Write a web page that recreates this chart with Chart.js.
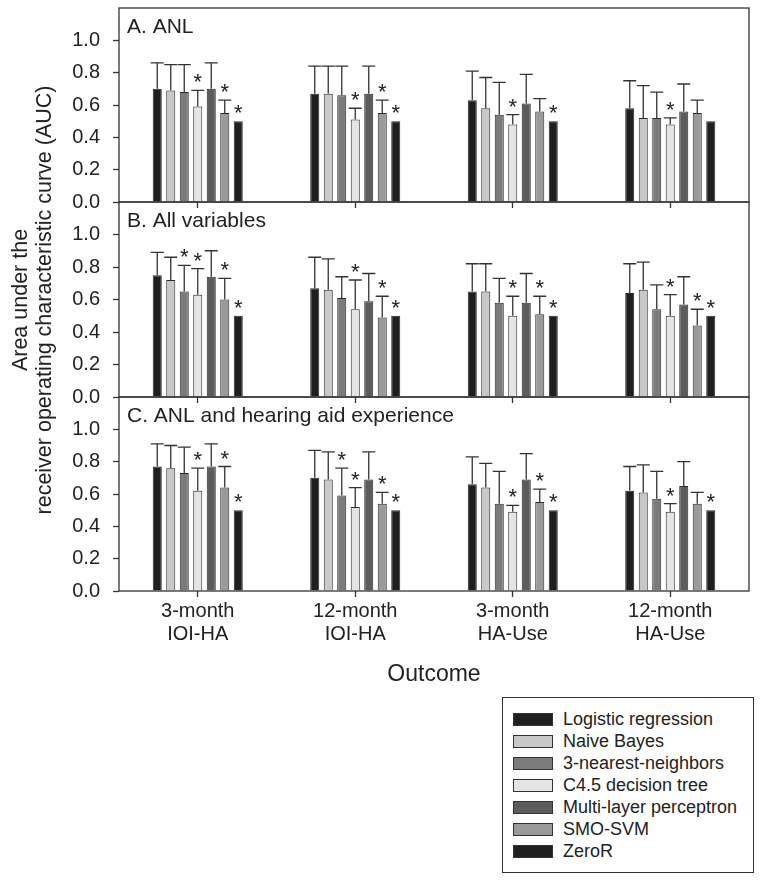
<!DOCTYPE html>
<html>
<head>
<meta charset="utf-8">
<script src="https://cdn.jsdelivr.net/npm/chart.js@4.4.0/dist/chart.umd.min.js"></script>
<style>
  body { margin: 0; background: #fff; font-family: "Liberation Sans", Arial, sans-serif; color: #222; }
  #page { position: relative; width: 762px; height: 881px; overflow: hidden; }
  canvas { position: absolute; left: 0; }
  #ytitle {
    position: absolute; left: -218px; top: 276px; width: 500px; height: 48px;
    font-size: 21.5px; line-height: 24px; text-align: center; color: #222;
    transform: rotate(-90deg); transform-origin: 50% 50%; white-space: nowrap;
  }
  #legend {
    position: absolute; left: 502px; top: 697px; width: 250px; height: 174px;
    border: 1px solid #333; box-sizing: content-box; padding: 0;
  }
  .row { position: absolute; left: 10px; height: 22px; display: flex; align-items: center; font-size: 18px; color: #222; white-space: nowrap; }
  .sw { width: 38px; height: 11px; border: 1px solid #333; margin-right: 10px; }
</style>
</head>
<body>
<div id="page">
  <canvas id="panelA" width="762" height="210" style="top:0px;width:762px;height:210px"></canvas>
  <canvas id="panelB" width="762" height="211" style="top:194px;width:762px;height:211px"></canvas>
  <canvas id="panelC" width="762" height="299" style="top:389px;width:762px;height:299px"></canvas>
  <div id="ytitle">Area under the<br>receiver operating characteristic curve (AUC)</div>
  <div id="legend"></div>
</div>
<script>
// Outcomes on the x axis, classifiers as bars
const outcomes = [['3-month', 'IOI-HA'], ['12-month', 'IOI-HA'], ['3-month', 'HA-Use'], ['12-month', 'HA-Use']];
const methods = ['Logistic regression', 'Naive Bayes', '3-nearest-neighbors', 'C4.5 decision tree',
  'Multi-layer perceptron', 'SMO-SVM', 'ZeroR'];
const methodColors = ['#1f1f1f', '#c8c8c8', '#7b7b7b', '#e4e4e4', '#5c5c5c', '#9a9a9a', '#1f1f1f'];
const panelTitles = ['A. ANL', 'B. All variables', 'C. ANL and hearing aid experience'];
const yTicks = [0, 0.2, 0.4, 0.6, 0.8, 1.0];

// mean AUC, one row per method (4 outcomes each)
const aucANL = [
  [0.70, 0.67, 0.63, 0.58], [0.69, 0.67, 0.58, 0.52], [0.68, 0.66, 0.54, 0.52], [0.59, 0.51, 0.48, 0.48],
  [0.70, 0.67, 0.61, 0.56], [0.55, 0.55, 0.56, 0.55], [0.50, 0.50, 0.50, 0.50]
];
const upperANL = [
  [0.86, 0.84, 0.81, 0.75], [0.85, 0.84, 0.77, 0.72], [0.85, 0.84, 0.74, 0.68], [0.69, 0.58, 0.54, 0.52],
  [0.86, 0.84, 0.79, 0.73], [0.63, 0.63, 0.64, 0.63], [null, null, null, null]
];
const starsANL = [
  [0, 0, 0, 0], [0, 0, 0, 0], [0, 0, 0, 0], [1, 1, 1, 1], [0, 0, 0, 0], [1, 1, 0, 0], [1, 1, 1, 0]
];

const aucAll = [
  [0.75, 0.67, 0.65, 0.64], [0.72, 0.66, 0.65, 0.66], [0.65, 0.61, 0.58, 0.54], [0.63, 0.54, 0.50, 0.50],
  [0.74, 0.59, 0.58, 0.57], [0.60, 0.49, 0.51, 0.44], [0.50, 0.50, 0.50, 0.50]
];
const upperAll = [
  [0.89, 0.86, 0.82, 0.82], [0.86, 0.85, 0.82, 0.83], [0.81, 0.74, 0.73, 0.69], [0.79, 0.72, 0.62, 0.63],
  [0.90, 0.76, 0.76, 0.74], [0.73, 0.62, 0.62, 0.54], [null, null, null, null]
];
const starsAll = [
  [0, 0, 0, 0], [0, 0, 0, 0], [1, 0, 0, 0], [1, 1, 1, 1], [0, 0, 0, 0], [1, 1, 1, 1], [1, 1, 1, 1]
];

const aucExp = [
  [0.77, 0.70, 0.66, 0.62], [0.76, 0.69, 0.64, 0.61], [0.73, 0.59, 0.54, 0.57], [0.62, 0.52, 0.49, 0.49],
  [0.77, 0.69, 0.69, 0.65], [0.64, 0.54, 0.55, 0.54], [0.50, 0.50, 0.50, 0.50]
];
const upperExp = [
  [0.91, 0.87, 0.83, 0.77], [0.90, 0.86, 0.79, 0.78], [0.89, 0.76, 0.74, 0.74], [0.76, 0.64, 0.53, 0.54],
  [0.91, 0.86, 0.85, 0.80], [0.77, 0.61, 0.63, 0.61], [null, null, null, null]
];
const starsExp = [
  [0, 0, 0, 0], [0, 0, 0, 0], [0, 1, 0, 0], [1, 1, 1, 1], [0, 0, 0, 0], [1, 1, 1, 0], [1, 1, 1, 1]
];

const FONT = '"Liberation Sans", Arial, sans-serif';
const INK = '#333';

// error bars, asterisks, frame and panel title
const panelDecor = {
  id: 'panelDecor',
  afterDatasetsDraw(chart, args, opts) {
    const { ctx, chartArea: a } = chart;
    const y = chart.scales.y;
    ctx.save();
    chart.data.datasets.forEach((ds, i) => {
      const meta = chart.getDatasetMeta(i);
      meta.data.forEach((bar, j) => {
        let top = bar.y;
        const up = ds.upper[j];
        if (up != null) {
          const yy = y.getPixelForValue(up);
          ctx.strokeStyle = INK;
          ctx.lineWidth = 1.3;
          ctx.beginPath();
          ctx.moveTo(bar.x, bar.y);
          ctx.lineTo(bar.x, yy);
          ctx.moveTo(bar.x - 6.5, yy);
          ctx.lineTo(bar.x + 6.5, yy);
          ctx.stroke();
          top = yy;
        }
        if (ds.stars[j]) {
          ctx.fillStyle = '#222';
          ctx.font = '22px ' + FONT;
          ctx.textAlign = 'center';
          ctx.textBaseline = 'alphabetic';
          ctx.fillText('*', bar.x, top - 1);
        }
      });
    });
    ctx.strokeStyle = INK;
    ctx.lineWidth = 1.3;
    ctx.strokeRect(a.left, a.top, a.right - a.left, a.bottom - a.top);
    ctx.fillStyle = '#222';
    ctx.font = '21px ' + FONT;
    ctx.textAlign = 'left';
    ctx.textBaseline = 'alphabetic';
    ctx.fillText(opts.title, a.left + 8, a.top + 25);
    ctx.restore();
  }
};

function makePanel(id, title, auc, upper, stars, isLast) {
  const datasets = methods.map((m, i) => ({
    label: m,
    data: auc[i],
    upper: upper[i],
    stars: stars[i],
    backgroundColor: methodColors[i],
    borderColor: '#2a2a2a',
    borderWidth: 1,
    barPercentage: 0.67,
    categoryPercentage: 0.6
  }));
  return new Chart(document.getElementById(id), {
    type: 'bar',
    data: { labels: outcomes, datasets },
    plugins: [panelDecor],
    options: {
      responsive: false,
      animation: false,
      layout: { padding: { top: 8, right: 13, left: 0, bottom: 0 } },
      plugins: {
        legend: { display: false },
        tooltip: { enabled: false },
        panelDecor: { title }
      },
      scales: {
        x: {
          grid: { display: true, offset: false, drawOnChartArea: false, tickLength: 6, color: INK, tickWidth: 1.3 },
          border: { display: false },
          ticks: {
            display: isLast,
            color: '#222',
            padding: 3,
            font: { family: FONT, size: 20, lineHeight: 1.15 }
          },
          title: {
            display: isLast,
            text: 'Outcome',
            color: '#222',
            padding: 0,
            font: { family: FONT, size: 23 }
          },
          afterFit: (s) => {
            s.height = isLast ? 97 : 8;
            s.paddingLeft = 0; s.paddingRight = 0;
          }
        },
        y: {
          min: 0,
          max: 1.2,
          grid: { display: true, drawOnChartArea: false, tickLength: 6, color: INK, tickWidth: 1.3 },
          border: { display: false },
          ticks: {
            stepSize: 0.2,
            padding: 13,
            color: '#222',
            font: { family: FONT, size: 20 },
            callback: (v) => Number(v).toFixed(1)
          },
          afterBuildTicks: (s) => { s.ticks = s.ticks.filter(t => yTicks.some(v => Math.abs(v - t.value) < 1e-6)); },
          afterFit: (s) => {
            s.width = 119;
            s.paddingTop = 0; s.paddingBottom = 0;
          }
        }
      }
    }
  });
}

makePanel('panelA', panelTitles[0], aucANL, upperANL, starsANL, false);
makePanel('panelB', panelTitles[1], aucAll, upperAll, starsAll, false);
makePanel('panelC', panelTitles[2], aucExp, upperExp, starsExp, true);

// legend box
const legendBox = document.getElementById('legend');
methods.forEach((m, i) => {
  const row = document.createElement('div');
  row.className = 'row';
  row.style.top = (10 + i * 22) + 'px';
  const sw = document.createElement('span');
  sw.className = 'sw';
  sw.style.background = methodColors[i];
  const label = document.createElement('span');
  label.textContent = m;
  row.appendChild(sw);
  row.appendChild(label);
  legendBox.appendChild(row);
});
</script>
</body>
</html>
